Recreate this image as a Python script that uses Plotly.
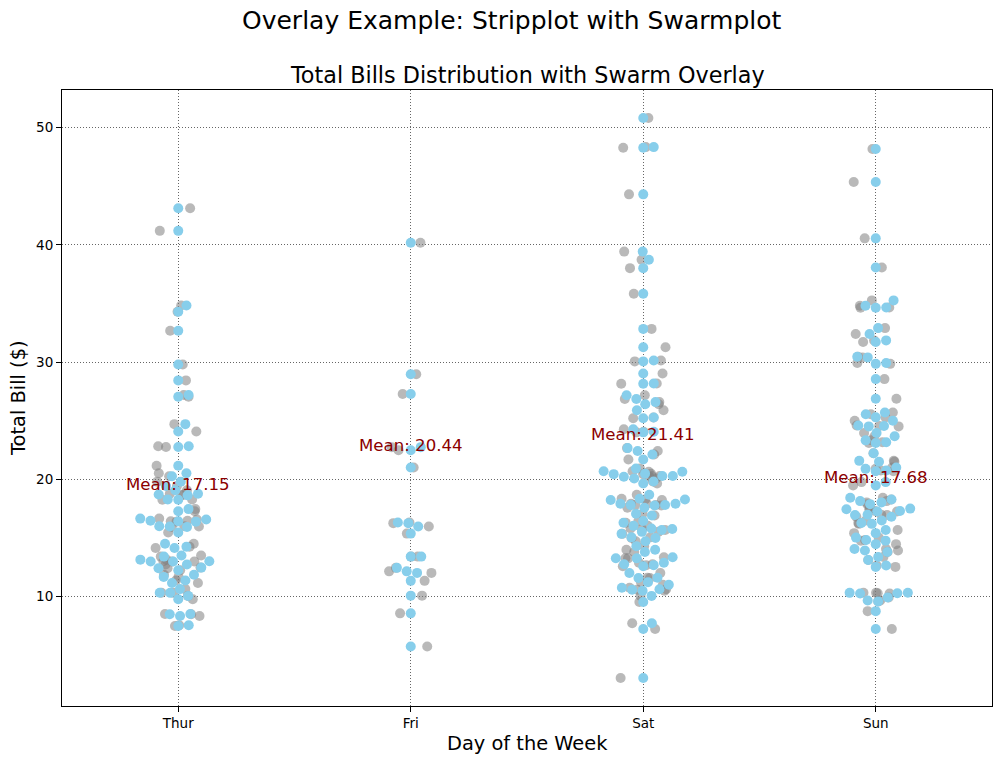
import plotly.graph_objects as go
import numpy as np

# ---------------- data (tips dataset, total bill by day) ----------------
days = ["Thur", "Fri", "Sat", "Sun"]

thur_bills = [27.2, 22.76, 17.29, 19.44, 16.66, 10.07, 32.68, 15.98, 34.83, 13.03, 18.28, 24.71, 21.16,
              10.65, 12.43, 24.08, 11.69, 13.42, 14.26, 15.95, 12.48, 29.8, 8.52, 14.52, 11.38, 22.82,
              19.08, 20.27, 11.17, 12.26, 18.26, 8.51, 10.33, 14.15, 16.0, 13.16, 17.47, 34.3, 41.19,
              27.05, 16.43, 8.35, 18.64, 11.87, 9.78, 7.51,
              19.81, 28.44, 15.48, 16.58, 7.56, 10.34, 43.11, 13.0, 13.51, 18.71, 12.74, 13.0, 16.4,
              20.53, 16.47, 18.78]
fri_bills = [28.97, 22.49, 5.75, 16.32, 22.75, 40.17, 27.28, 12.03, 21.01, 12.46, 11.35, 15.38,
             12.16, 13.42, 8.58, 15.98, 13.42, 16.27, 10.09]
sat_bills = [20.65, 17.92, 20.29, 15.77, 39.42, 19.82, 17.81, 13.37, 12.69, 21.7, 19.65, 9.55, 18.35,
             15.06, 20.69, 17.78, 24.06, 16.31, 16.93, 18.69, 31.27, 16.04,
             38.01, 26.41, 11.24, 48.27, 20.29, 13.81, 11.02, 18.29, 17.59, 20.08, 16.45, 3.07, 20.23,
             15.01, 12.02, 17.07, 26.86, 25.28, 14.73, 10.51, 17.92,
             44.3, 22.42, 20.92, 15.36, 20.49, 25.21, 18.24, 14.31, 14.0, 7.25,
             10.59, 10.63, 50.81, 15.81,
             26.59, 38.73, 24.27, 12.76, 30.06, 25.89, 48.33, 13.27, 28.17, 12.9, 28.15, 11.59, 7.74, 30.14,
             20.45, 13.28, 22.12, 24.01, 15.69, 11.61, 10.77, 15.53, 10.07, 12.6, 32.83, 35.83, 29.03,
             27.18, 22.67, 17.82]
sun_bills = [16.99, 10.34, 21.01, 23.68, 24.59, 25.29, 8.77, 26.88, 15.04, 14.78, 10.27, 35.26, 15.42,
             18.43, 14.83, 21.58, 10.33, 16.29, 16.97,
             17.46, 13.94, 9.68, 30.4, 18.29, 22.23, 32.4, 28.55, 18.04, 12.54, 10.29, 34.81, 9.94,
             25.56, 19.49,
             38.07, 23.95, 25.71, 17.31, 29.93,
             14.07, 13.13, 17.26, 24.55, 19.77, 29.85, 48.17, 25.0, 13.39, 16.49, 21.5, 12.66, 16.21,
             13.81, 17.51, 24.52, 20.76, 31.71,
             7.25, 31.85, 16.82, 32.9, 17.89, 14.48, 9.6, 34.63, 34.65, 23.33, 45.35, 23.17, 40.55,
             20.69, 20.9, 30.46, 18.15, 23.1, 15.69]

# mean labels as printed on the chart (one per category position)
mean_labels = [17.15, 20.44, 21.41, 17.68]
y_ticks = [10, 20, 30, 40, 50]

groups = [thur_bills, fri_bills, sat_bills, sun_bills]

# ---------------- layout geometry ----------------
W, H = 1001, 764
ML, MR, MT, MB = 62, 9, 90, 58
plot_w = W - ML - MR
plot_h = H - MT - MB
x_range = [-0.5, 3.5]
y_range = [0.683, 53.197]
sx = plot_w / (x_range[1] - x_range[0])
sy = plot_h / (y_range[1] - y_range[0])
DOT = 10  # marker diameter in px


def strip_offsets(n, width=0.1):
    # deterministic low-discrepancy jitter in [-width, width]
    return [((k + 1) * 0.6180339887 % 1.0) * 2 * width - width for k in range(n)]


def beeswarm(center, values, d):
    """Seaborn-like beeswarm layout in pixel space; returns x positions (data units)."""
    vals = np.asarray(values, dtype=float)
    order = np.argsort(vals, kind="mergesort")
    ypx = vals * sy
    cx = center * sx
    placed = []
    xs = np.zeros(len(vals))
    for idx in order:
        y = ypx[idx]
        neighbors = [p for p in placed if abs(p[1] - y) < d]
        cands = [cx]
        for (nx, ny) in neighbors:
            dy = y - ny
            dx = np.sqrt(max(d * d - dy * dy, 0.0)) * 1.05
            cands.extend([nx + dx, nx - dx])
        cands = sorted(cands, key=lambda c: abs(c - cx))
        chosen = cands[-1]
        for c in cands:
            ok = True
            for (nx, ny) in neighbors:
                if (c - nx) ** 2 + (y - ny) ** 2 < (d * 0.999) ** 2:
                    ok = False
                    break
            if ok:
                chosen = c
                break
        placed.append((chosen, y))
        xs[idx] = chosen / sx
    return xs


fig = go.Figure()

# stripplot (gray, jittered)
for i, vals in enumerate(groups):
    offs = strip_offsets(len(vals))
    fig.add_trace(go.Scatter(
        x=[i + o for o in offs], y=vals, mode="markers",
        marker=dict(size=DOT, color="rgba(128,128,128,0.55)", line=dict(width=0)),
        showlegend=False, hoverinfo="skip"))

# swarmplot (skyblue)
for i, vals in enumerate(groups):
    xs = beeswarm(i, vals, DOT)
    fig.add_trace(go.Scatter(
        x=xs, y=vals, mode="markers",
        marker=dict(size=DOT, color="#87CEEB", line=dict(width=0)),
        showlegend=False, hoverinfo="skip"))

FONT = "DejaVu Sans"
annotations = []
for i, m in enumerate(mean_labels):
    annotations.append(dict(x=i, y=m + 2.45, xref="x", yref="y", text=f"Mean: {m:.2f}",
                            showarrow=False, xanchor="center", yanchor="middle",
                            font=dict(family=FONT, size=16.6, color="#8B0000")))


def py(pix):
    return (H - MB - pix) / plot_h


def px(pix):
    return (pix - ML) / plot_w


annotations += [
    dict(text="Overlay Example: Stripplot with Swarmplot", x=px(511.5), y=py(21), xref="paper", yref="paper",
         showarrow=False, xanchor="center", yanchor="middle", font=dict(family=FONT, size=25, color="black")),
    dict(text="Total Bills Distribution with Swarm Overlay", x=0.5, y=py(75), xref="paper", yref="paper",
         showarrow=False, xanchor="center", yanchor="middle", font=dict(family=FONT, size=22.3, color="black")),
    dict(text="Day of the Week", x=0.5, y=py(743), xref="paper", yref="paper",
         showarrow=False, xanchor="center", yanchor="middle", font=dict(family=FONT, size=19.4, color="black")),
    dict(text="Total Bill ($)", x=px(18), y=py(398), xref="paper", yref="paper", textangle=-90,
         showarrow=False, xanchor="center", yanchor="middle", font=dict(family=FONT, size=19.4, color="black")),
]

axis_common = dict(showline=True, mirror=True, linecolor="black", linewidth=1,
                   ticks="outside", ticklen=5, tickwidth=1, tickcolor="black",
                   showgrid=True, gridcolor="#666666", gridwidth=1, griddash="1px,2px",
                   zeroline=False, tickfont=dict(family=FONT, size=13.5, color="black"))

fig.update_layout(
    width=W, height=H,
    margin=dict(l=ML, r=MR, t=MT, b=MB, pad=0),
    paper_bgcolor="white", plot_bgcolor="white",
    xaxis=dict(range=x_range, tickmode="array", tickvals=list(range(len(days))), ticktext=days, **axis_common),
    yaxis=dict(range=y_range, tickmode="array", tickvals=y_ticks, ticktext=[str(t) for t in y_ticks], **axis_common),
    annotations=annotations,
    font=dict(family=FONT),
)

fig.write_html("out.html", config={"displayModeBar": False})
